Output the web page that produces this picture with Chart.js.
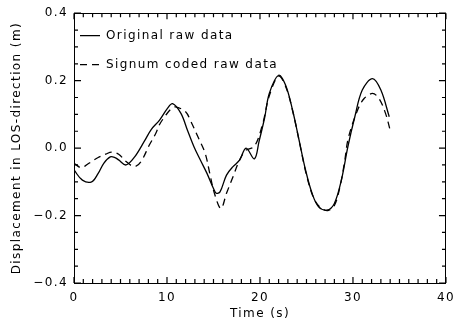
<!DOCTYPE html>
<html>
<head>
<meta charset="utf-8">
<script src="https://cdn.jsdelivr.net/npm/chart.js@4/dist/chart.umd.min.js"></script>
<style>
  html, body { margin: 0; padding: 0; background: #fff; }
  #wrap { width: 463px; height: 322px; position: relative; }
</style>
</head>
<body>
<div id="wrap"><canvas id="c" width="463" height="322"></canvas></div>
<script>
// ---- data ----
const seriesNames = ['Original raw data', 'Signum coded raw data'];

const originalTime = [0, 0.9, 1.9, 2.6, 3.2, 3.9, 4.4, 4.8, 5.6, 6.5, 7.6, 8.3, 9.2, 10.05, 10.6, 11.5, 12.2, 12.9, 13.6, 14.3, 15.0, 15.3, 15.7, 16.4, 17.1, 17.8, 18.5, 19.4, 19.9, 20.5, 21.0, 22.0, 22.75, 23.5, 24.2, 24.9, 25.6, 26.3, 27.2, 28.0, 28.75, 29.45, 30.2, 31.0, 32.1, 33.0, 33.9];
const originalDisp = [-0.065, -0.095, -0.100, -0.075, -0.045, -0.026, -0.028, -0.035, -0.050, -0.027, 0.022, 0.055, 0.083, 0.118, 0.132, 0.103, 0.053, 0.004, -0.036, -0.075, -0.120, -0.134, -0.130, -0.080, -0.055, -0.036, 0.000, -0.032, 0.020, 0.090, 0.162, 0.216, 0.187, 0.113, 0.024, -0.065, -0.134, -0.174, -0.184, -0.164, -0.095, 0.004, 0.093, 0.172, 0.206, 0.172, 0.093];

const signumTime = [0, 0.8, 1.6, 2.6, 3.4, 4.05, 4.8, 5.6, 6.5, 7.2, 8.1, 8.8, 9.2, 9.8, 10.4, 10.9, 12.0, 12.5, 13.4, 14.1, 14.6, 15.1, 15.8, 16.4, 17.1, 17.8, 18.5, 19.4, 20.3, 21.0, 22.0, 22.8, 23.6, 24.3, 25.0, 25.8, 26.5, 27.3, 28.0, 28.6, 29.1, 29.5, 30.5, 31.2, 32.1, 32.8, 33.5, 34.0];
const signumDisp = [-0.045, -0.058, -0.045, -0.028, -0.018, -0.012, -0.018, -0.040, -0.055, -0.040, 0.009, 0.044, 0.070, 0.095, 0.115, 0.122, 0.108, 0.083, 0.029, -0.015, -0.075, -0.134, -0.179, -0.134, -0.085, -0.036, -0.006, 0.005, 0.073, 0.155, 0.213, 0.180, 0.100, 0.010, -0.080, -0.150, -0.176, -0.185, -0.170, -0.115, -0.040, 0.030, 0.113, 0.147, 0.162, 0.147, 0.103, 0.053];

const xTicks = [0, 10, 20, 30, 40];
const yTicks = [-0.4, -0.2, 0.0, 0.2, 0.4];
const xAxisTitle = 'Time (s)';
const yAxisTitle = 'Displacement in LOS-direction (m)';

// ---- build ----
function toPoints(xs, ys) { return xs.map((x, i) => ({ x: x, y: ys[i] })); }

const FONT = { family: "'DejaVu Sans', sans-serif", size: 12 };
const INK = '#000';
const SPACING = '1.4px';

const letterSpacing = {
  id: 'letterSpacing',
  beforeUpdate(chart) { try { chart.ctx.letterSpacing = SPACING; } catch (e) {} },
  beforeDraw(chart) { try { chart.ctx.letterSpacing = SPACING; } catch (e) {} }
};

// inward minor/major ticks on all four sides of the frame
const innerTicks = {
  id: 'innerTicks',
  afterDraw(chart) {
    const ctx = chart.ctx, a = chart.chartArea;
    const xs = chart.scales.x, ys = chart.scales.y;
    const xMin = xTicks[0], xMax = xTicks[xTicks.length - 1];
    const yMin = yTicks[0], yMax = yTicks[yTicks.length - 1];
    ctx.save();
    ctx.setLineDash([]);
    ctx.strokeStyle = INK;
    ctx.lineWidth = 1.2;
    ctx.beginPath();
    for (let i = 0; i <= xMax - xMin; i++) {            // minor tick every 1 s
      const px = xs.getPixelForValue(xMin + i);
      const len = (i % 10 === 0) ? 6 : 4;
      ctx.moveTo(px, a.bottom); ctx.lineTo(px, a.bottom - len);
      ctx.moveTo(px, a.top); ctx.lineTo(px, a.top + len);
    }
    const ny = Math.round((yMax - yMin) / 0.05);          // minor tick every 0.05
    for (let i = 0; i <= ny; i++) {
      const py = ys.getPixelForValue(yMin + i * 0.05);
      const len = (i % 4 === 0) ? 7 : 4;
      ctx.moveTo(a.left, py); ctx.lineTo(a.left + len, py);
      ctx.moveTo(a.right, py); ctx.lineTo(a.right - len, py);
    }
    ctx.stroke();
    ctx.restore();
  }
};

const placeLegend = {
  id: 'placeLegend',
  afterLayout(chart) {
    const lg = chart.legend, a = chart.chartArea;
    lg.left = a.left - 11; lg.top = a.top - 0.5;
    lg.right = lg.left + 300; lg.bottom = lg.top + 120;
    lg.width = 300; lg.height = 120;
  }
};

new Chart(document.getElementById('c'), {
  type: 'scatter',
  data: {
    datasets: [
      {
        label: seriesNames[0],
        data: toPoints(originalTime, originalDisp),
        showLine: true, borderColor: INK, backgroundColor: INK,
        borderWidth: 1.3, pointRadius: 0, tension: 0.35, fill: false
      },
      {
        label: seriesNames[1],
        data: toPoints(signumTime, signumDisp),
        showLine: true, borderColor: INK, backgroundColor: INK,
        borderWidth: 1.3, borderDash: [7, 5], pointRadius: 0, tension: 0.35, fill: false
      }
    ]
  },
  options: {
    responsive: false,
    animation: false,
    devicePixelRatio: 1,
    layout: { autoPadding: false, padding: { left: 0, top: 13, right: 10, bottom: 0 } },
    plugins: {
      tooltip: { enabled: false },
      legend: {
        position: 'chartArea',
        align: 'start',
        labels: {
          usePointStyle: true, pointStyle: 'line', pointStyleWidth: 20,
          padding: 17, color: INK, font: FONT,
          generateLabels(chart) {
            const items = Chart.defaults.plugins.legend.labels.generateLabels(chart);
            items.forEach((it) => {
              const ds = chart.data.datasets[it.datasetIndex];
              it.lineDash = ds.borderDash || [];
              it.lineWidth = ds.borderWidth;
              it.strokeStyle = ds.borderColor;
            });
            return items;
          }
        }
      }
    },
    scales: {
      x: {
        type: 'linear', position: 'bottom',
        min: xTicks[0], max: xTicks[xTicks.length - 1],
        afterBuildTicks: (s) => { s.ticks = xTicks.map(v => ({ value: v })); },
        afterFit: (s) => { s.height = 39; },
        grid: { display: false, drawTicks: false },
        border: { display: true, color: INK, width: 1 },
        ticks: { color: INK, font: FONT, padding: 8, maxRotation: 0, callback: (v) => String(v) },
        title: { display: true, text: xAxisTitle, color: INK, font: FONT, padding: { top: 0, bottom: 1 } }
      },
      y: {
        type: 'linear', position: 'left',
        min: yTicks[0], max: yTicks[yTicks.length - 1],
        afterBuildTicks: (s) => { s.ticks = yTicks.map(v => ({ value: v })); },
        afterFit: (s) => { s.width = 74; },
        grid: { display: false, drawTicks: false },
        border: { display: true, color: INK, width: 1 },
        ticks: { color: INK, font: FONT, padding: 6, callback: (v) => (v < 0 ? '\u2212' : '') + Math.abs(v).toFixed(1) },
        title: { display: true, text: yAxisTitle, color: INK, font: FONT, padding: { top: 10, bottom: 0 } }
      },
      x2: {
        type: 'linear', position: 'top',
        min: xTicks[0], max: xTicks[xTicks.length - 1],
        afterFit: (s) => { s.height = 0; },
        grid: { display: false, drawTicks: false },
        border: { display: true, color: INK, width: 1 },
        ticks: { display: false }
      },
      y2: {
        type: 'linear', position: 'right',
        min: yTicks[0], max: yTicks[yTicks.length - 1],
        afterFit: (s) => { s.width = 0; },
        grid: { display: false, drawTicks: false },
        border: { display: true, color: INK, width: 1 },
        ticks: { display: false }
      }
    }
  },
  plugins: [letterSpacing, innerTicks, placeLegend]
});
</script>
</body>
</html>
